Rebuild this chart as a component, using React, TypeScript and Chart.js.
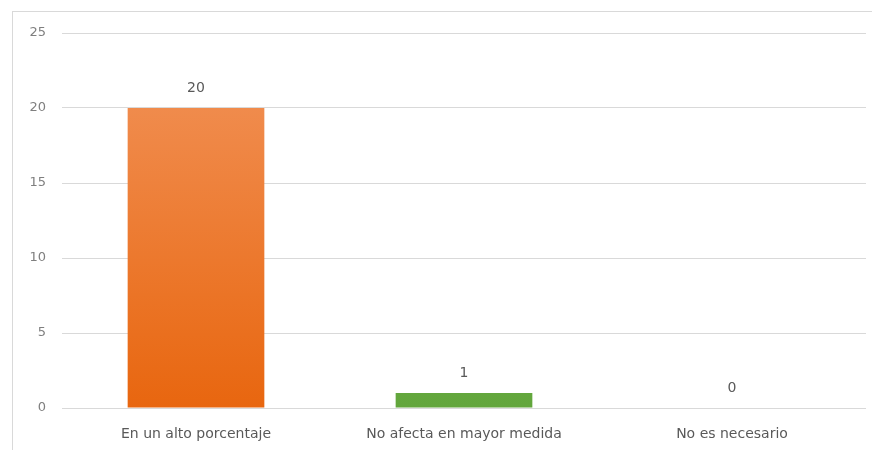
import React, { useEffect, useRef } from "react";
import { Chart, registerables } from "chart.js";

Chart.register(...registerables);

const categories = ["En un alto porcentaje", "No afecta en mayor medida", "No es necesario"];
const values = [20, 1, 0];
const yTicks = [0, 5, 10, 15, 20, 25];

const FONT = "'DejaVu Sans', 'Liberation Sans', Arial, sans-serif";

const valueLabels = {
  id: "valueLabels",
  afterDatasetsDraw(chart: any) {
    const ctx = chart.ctx;
    const meta = chart.getDatasetMeta(0);
    ctx.save();
    ctx.fillStyle = "#595959";
    ctx.font = `14px ${FONT}`;
    ctx.textAlign = "center";
    ctx.textBaseline = "middle";
    meta.data.forEach((bar: any, i: number) => {
      ctx.fillText(String(values[i]), bar.x, bar.y - 20);
    });
    ctx.restore();
  },
};

export default function App() {
  const ref = useRef<HTMLCanvasElement>(null);
  useEffect(() => {
    const canvas = ref.current!;
    const chart = new Chart(canvas, {
      type: "bar",
      data: {
        labels: categories,
        datasets: [
          {
            data: values,
            backgroundColor: (c: any) => {
              const { chart } = c;
              const area = chart.chartArea;
              if (!area) return "#ED7D31";
              const g = chart.ctx.createLinearGradient(0, area.top, 0, area.bottom);
              if (c.dataIndex === 0) {
                g.addColorStop(0, "#F2955C");
                g.addColorStop(0.2, "#F08B4C");
                g.addColorStop(1, "#E8660F");
                return g;
              }
              g.addColorStop(0, "#7DBB55");
              g.addColorStop(1, "#62A63C");
              return g;
            },
            borderWidth: 0,
            categoryPercentage: 1,
            barPercentage: 0.51,
          },
        ],
      },
      options: {
        responsive: false,
        animation: false,
        devicePixelRatio: 1,
        layout: { padding: { top: 33, right: 6, left: 0, bottom: 0 } },
        plugins: { legend: { display: false }, tooltip: { enabled: false } },
        scales: {
          x: {
            grid: { display: false, drawTicks: false },
            border: { display: false },
            ticks: { color: "#595959", font: { family: FONT, size: 14 }, padding: 18 },
            afterFit: (s: any) => {
              s.height = 42;
            },
          },
          y: {
            min: 0,
            max: 25,
            afterBuildTicks: (s: any) => {
              s.ticks = yTicks.map((v) => ({ value: v }));
            },
            grid: { color: "#D9D9D9", drawTicks: false, lineWidth: 1 },
            border: { display: false },
            ticks: { color: "#7F7F7F", font: { family: FONT, size: 13 }, padding: 16 },
            afterFit: (s: any) => {
              s.width = 62;
            },
          },
        },
      },
      plugins: [valueLabels],
    });
    return () => chart.destroy();
  }, []);

  return (
    <div style={{ position: "fixed", left: 0, top: 0, width: 872, height: 450, background: "#fff", overflow: "hidden" }}>
      <div
        style={{
          position: "absolute",
          left: 12,
          top: 11,
          width: 880,
          height: 460,
          border: "1px solid #D9D9D9",
          boxSizing: "border-box",
        }}
      />
      <canvas ref={ref} width={872} height={450} style={{ position: "absolute", left: 0, top: 0 }} />
    </div>
  );
}
